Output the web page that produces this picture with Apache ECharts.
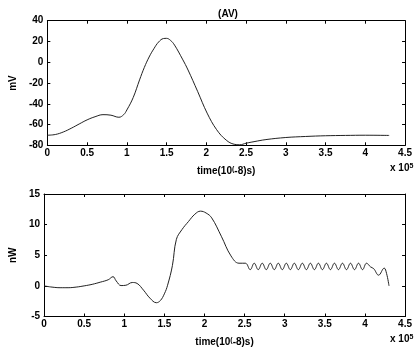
<!DOCTYPE html>
<html>
<head>
<meta charset="utf-8">
<script src="https://cdn.jsdelivr.net/npm/echarts@6/dist/echarts.min.js"></script>
<style>html,body{margin:0;padding:0;background:#fff;}#c{width:415px;height:348px;}</style>
</head>
<body>
<div id="c"></div>
<script>
// x values in units of 1e5 (time(10^-8)s)
var xTicks = [0, 0.5, 1, 1.5, 2, 2.5, 3, 3.5, 4, 4.5];
var topYTicks = [-80, -60, -40, -20, 0, 20, 40];
var botYTicks = [-5, 0, 5, 10, 15];

var topX = [0, 0.1, 0.2, 0.3, 0.4, 0.5, 0.6, 0.7, 0.8, 0.9, 0.96, 1.0, 1.08, 1.16, 1.22, 1.28, 1.34, 1.40, 1.46, 1.50, 1.55, 1.60, 1.70, 1.77, 1.89, 2.01, 2.13, 2.25, 2.35, 2.42, 2.5, 2.6, 2.75, 3.0, 3.25, 3.5, 3.75, 4.0, 4.3];
var topY = [-70.3, -69.6, -67.2, -63.6, -59.5, -55.5, -52.5, -50.5, -51, -53, -50.5, -46, -34, -17, -5, 5, 13, 19.5, 22.8, 23, 21, 16.5, 3, -7.5, -28, -49, -65, -75, -79, -79.5, -78, -76.5, -74.5, -72.5, -71.5, -70.8, -70.5, -70.3, -70.5];

var botX = [0, 0.1, 0.2, 0.3, 0.4, 0.5, 0.6, 0.7, 0.8, 0.86, 0.9, 0.96, 1.02, 1.1, 1.16, 1.24, 1.32, 1.40, 1.45, 1.50, 1.54, 1.60, 1.65, 1.72, 1.80, 1.88, 1.95, 2.02, 2.09, 2.21, 2.33, 2.43, 2.51,
  2.57, 2.62, 2.67, 2.72, 2.77, 2.82, 2.87, 2.92, 2.97, 3.02, 3.07, 3.12, 3.17, 3.22, 3.27, 3.32, 3.37, 3.42, 3.47, 3.52, 3.57, 3.62, 3.67, 3.72, 3.77, 3.82, 3.87, 3.92, 3.97, 4.02,
  4.07, 4.11, 4.17, 4.24, 4.27, 4.30];
var botY = [0, -0.2, -0.3, -0.3, -0.2, 0, 0.25, 0.6, 1.0, 1.5, 0.8, 0.05, 0.1, 0.55, 0.4, -0.7, -2.0, -2.75, -2.4, -1.3, 0.1, 3.3, 7.6, 9.2, 10.5, 11.7, 12.2, 11.9, 11.1, 8.1, 4.9, 3.7, 3.7,
  2.65, 3.7, 2.65, 3.7, 2.65, 3.7, 2.65, 3.7, 2.65, 3.7, 2.65, 3.7, 2.65, 3.7, 2.65, 3.7, 2.65, 3.7, 2.65, 3.7, 2.65, 3.7, 2.65, 3.7, 2.65, 3.7, 2.65, 3.7, 2.65, 3.7,
  3.1, 2.8, 1.75, 2.9, 2.0, 0];

function pairs(xs, ys) { return xs.map(function (x, i) { return [x, ys[i]]; }); }

var FONT = 'Liberation Sans';
var lab = { color: '#000', fontFamily: FONT, fontSize: 10, fontWeight: 'bold' };

function xAxisPair(gi) {
  var base = {
    type: 'value', gridIndex: gi, min: xTicks[0], max: xTicks[xTicks.length - 1],
    interval: xTicks[1] - xTicks[0], splitLine: { show: false },
    axisLine: { show: true, onZero: false, lineStyle: { color: '#000', width: 1 } },
    axisTick: { show: true, inside: true, length: 3, lineStyle: { color: '#000' } }
  };
  var a = Object.assign({}, base, {
    position: 'bottom',
    axisLabel: Object.assign({ margin: 3, formatter: function (v) { return String(v); } }, lab),
    name: '{n|time(10}{s|(}{n|-8)s)}', nameLocation: 'middle', nameGap: 20,
    nameTextStyle: { rich: { n: Object.assign({}, lab), s: { color: '#000', fontFamily: FONT, fontSize: 7, fontWeight: 'bold', verticalAlign: 'top', padding: [0, 0, 4, 0] } } }
  });
  var b = Object.assign({}, base, { position: 'top', axisLabel: { show: false } });
  return [a, b];
}
function yAxisPair(gi, ticks, name) {
  var base = {
    type: 'value', gridIndex: gi, min: ticks[0], max: ticks[ticks.length - 1],
    interval: ticks[1] - ticks[0], splitLine: { show: false },
    axisLine: { show: true, onZero: false, lineStyle: { color: '#000', width: 1 } },
    axisTick: { show: true, inside: true, length: 3, lineStyle: { color: '#000' } }
  };
  var a = Object.assign({}, base, {
    position: 'left', axisLabel: Object.assign({ margin: 4 }, lab),
    name: name, nameLocation: 'middle', nameGap: 24, nameRotate: 90,
    nameTextStyle: Object.assign({}, lab)
  });
  var b = Object.assign({}, base, { position: 'right', axisLabel: { show: false } });
  return [a, b];
}

var chart = echarts.init(document.getElementById('c'), null, { renderer: 'canvas' });
var xa = xAxisPair(0).concat(xAxisPair(1));
var ya = yAxisPair(0, topYTicks, 'mV').concat(yAxisPair(1, botYTicks, 'nW'));
chart.setOption({
  animation: false,
  backgroundColor: '#fff',
  title: { text: '(AV)', left: 223, top: 4, textAlign: 'center', textStyle: Object.assign({}, lab) },
  grid: [
    { left: 37, right: 4.5, top: 20.7, height: 124.6, containLabel: false },
    { left: 37, right: 4.5, top: 194, height: 124.7, containLabel: false }
  ],
  xAxis: xa,
  yAxis: ya,
  graphic: [
    { type: 'text', left: 390, top: 163, style: { rich: { n: Object.assign({}, lab), s: { fill: '#000', fontFamily: FONT, fontSize: 7, fontWeight: 'bold', verticalAlign: 'top', padding: [0, 0, 4, 0] } }, text: '{n|x 10}{s|5}' } },
    { type: 'text', left: 390, top: 334, style: { rich: { n: Object.assign({}, lab), s: { fill: '#000', fontFamily: FONT, fontSize: 7, fontWeight: 'bold', verticalAlign: 'top', padding: [0, 0, 4, 0] } }, text: '{n|x 10}{s|5}' } }
  ],
  series: [
    { type: 'line', xAxisIndex: 0, yAxisIndex: 0, data: pairs(topX, topY), smooth: 0.4, showSymbol: false, lineStyle: { color: '#222', width: 1 } },
    { type: 'line', xAxisIndex: 2, yAxisIndex: 2, data: pairs(botX, botY), smooth: 0.4, showSymbol: false, lineStyle: { color: '#222', width: 1 } }
  ]
});
</script>
</body>
</html>
